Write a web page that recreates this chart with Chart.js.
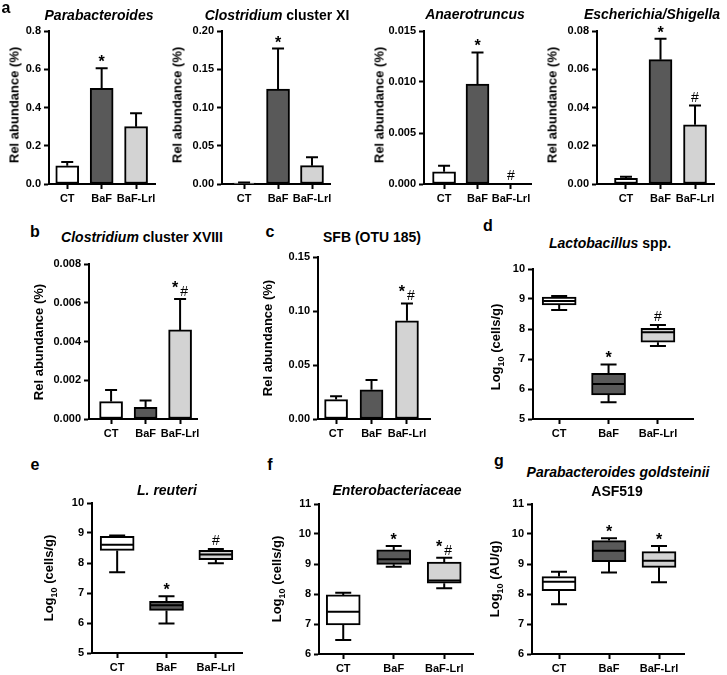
<!DOCTYPE html>
<html>
<head>
<meta charset="utf-8">
<script src="https://cdn.jsdelivr.net/npm/chart.js@4.4.0/dist/chart.umd.min.js"></script>
<style>
body{margin:0;background:#fff;width:727px;height:675px;position:relative;overflow:hidden;
  font-family:"Liberation Sans",Arial,sans-serif;font-weight:bold;color:#000}
canvas{position:absolute}
.t{position:absolute;transform:translate(-50%,-50%);white-space:nowrap;font-size:14px}
.l{position:absolute;transform:translate(-50%,-50%);font-size:16px}
.y{position:absolute;transform:translate(-50%,-50%) rotate(-90deg);white-space:nowrap;font-size:13px}
</style>
</head>
<body>
<script>
var groups = ['CT', 'BaF', 'BaF-Lrl'];
var fills = ['#ffffff', '#595959', '#d3d3d3'];

// a - relative abundance, mean and top of error bar
var paraMean = [0.095, 0.50, 0.30];
var paraErr = [0.115, 0.605, 0.37];
var paraMark = ['', '*', ''];
var clo11Mean = [0.0012, 0.124, 0.024];
var clo11Err = [0.002, 0.177, 0.035];
var clo11Mark = ['', '*', ''];
var anaMean = [0.0012, 0.0098, 0];
var anaErr = [0.0018, 0.0129, 0];
var anaMark = ['', '*', '#'];
var eschMean = [0.003, 0.065, 0.031];
var eschErr = [0.0038, 0.076, 0.041];
var eschMark = ['', '*', '#'];
// b, c
var clo18Mean = [0.0009, 0.0006, 0.0046];
var clo18Err = [0.0015, 0.00095, 0.0062];
var clo18Mark = ['', '', '*#'];
var sfbMean = [0.018, 0.027, 0.091];
var sfbErr = [0.021, 0.036, 0.107];
var sfbMark = ['', '', '*#'];

// d - g box plots (log10)
var lacMin = [8.63, 5.56, 7.43];
var lacQ1 = [8.80, 5.80, 7.56];
var lacMed = [8.93, 6.17, 7.89];
var lacQ3 = [9.06, 6.52, 8.02];
var lacMax = [9.10, 6.82, 8.13];
var lacMark = ['', '*', '#'];
var reuMin = [7.69, 5.98, 7.99];
var reuQ1 = [8.42, 6.42, 8.11];
var reuMed = [8.61, 6.59, 8.28];
var reuQ3 = [8.89, 6.72, 8.42];
var reuMax = [8.92, 6.89, 8.47];
var reuMark = ['', '*', '#'];
var entMin = [6.47, 8.91, 8.19];
var entQ1 = [6.97, 8.99, 8.36];
var entMed = [7.41, 9.16, 8.45];
var entQ3 = [7.97, 9.47, 9.06];
var entMax = [8.04, 9.60, 9.21];
var entMark = ['', '*', '*#'];
var golMin = [7.66, 8.72, 8.39];
var golQ1 = [8.11, 9.08, 8.89];
var golMed = [8.41, 9.44, 9.11];
var golQ3 = [8.58, 9.78, 9.41];
var golMax = [8.74, 9.86, 9.60];
var golMark = ['', '*', '*'];

var YW = 45, XH = 28, PT = 12, PR = 12;
var tickFont = {family: 'Liberation Sans', size: 11, weight: 'bold'};

function addText(cls, x, y, html) {
  var d = document.createElement('div');
  d.className = cls;
  d.style.left = x + 'px';
  d.style.top = y + 'px';
  d.innerHTML = html;
  document.body.appendChild(d);
}

function makeCanvas(g) {
  var cv = document.createElement('canvas');
  var w = YW + (g.end - g.ax) + PR, h = PT + (g.bot - g.top) + XH;
  cv.width = w; cv.height = h;
  cv.style.left = (g.ax - YW) + 'px';
  cv.style.top = (g.top - PT) + 'px';
  cv.style.width = w + 'px'; cv.style.height = h + 'px';
  document.body.appendChild(cv);
  return cv;
}

function drawMarks(c, x, yTop, m) {
  c.fillStyle = '#000';
  c.textAlign = 'center';
  c.textBaseline = 'alphabetic';
  if (m === '*#') {
    c.font = 'bold 16px "Liberation Sans"';
    c.fillText('*', x - 5, yTop - 6);
    c.font = '14px "Liberation Sans"';
    c.fillText('#', x + 4, yTop - 3);
  } else if (m === '*') {
    c.font = 'bold 16px "Liberation Sans"';
    c.fillText('*', x, yTop - 1);
  } else if (m === '#') {
    c.font = '14px "Liberation Sans"';
    c.fillText('#', x, yTop - 4);
  }
}

function scales(g, yMin, yMax, step, dec) {
  return {
    x: {
      type: 'linear', min: g.min, max: g.max, offset: false,
      afterFit: function (s) { s.height = XH; },
      afterBuildTicks: function (s) { s.ticks = groups.map(function (n, i) { return {value: i + 1}; }); },
      ticks: {callback: function (v) { return groups[Math.round(v) - 1]; }, color: '#000', font: tickFont,
        padding: 3, maxRotation: 0, autoSkip: false},
      grid: {offset: false, drawOnChartArea: false, tickLength: 5, tickColor: '#000', tickWidth: 2},
      border: {color: '#000', width: 2}
    },
    y: {
      min: yMin, max: yMax,
      afterFit: function (s) { s.width = YW; },
      ticks: {stepSize: step, callback: function (v) { return v.toFixed(dec); }, color: '#000', font: tickFont, padding: 3},
      grid: {drawOnChartArea: false, tickLength: 5, tickColor: '#000', tickWidth: 2},
      border: {color: '#000', width: 2}
    }
  };
}

function barPanel(g, yMax, step, dec, mean, err, mark) {
  var cv = makeCanvas(g);
  var errPlugin = {
    id: 'errbars',
    afterDatasetsDraw: function (chart) {
      var c = chart.ctx, xs = chart.scales.x, ys = chart.scales.y;
      c.save();
      c.strokeStyle = '#000'; c.lineWidth = 2;
      for (var i = 0; i < mean.length; i++) {
        var x = xs.getPixelForValue(i + 1);
        var y0 = ys.getPixelForValue(mean[i]), y1 = ys.getPixelForValue(err[i]);
        if (err[i] > mean[i]) {
          c.beginPath();
          c.moveTo(x, y0); c.lineTo(x, y1);
          c.moveTo(x - 6, y1); c.lineTo(x + 6, y1);
          c.stroke();
        }
        drawMarks(c, x, y1, mark[i]);
      }
      c.restore();
    }
  };
  new Chart(cv, {
    type: 'bar',
    data: {datasets: [{
      data: mean.map(function (v, i) { return {x: i + 1, y: v}; }),
      backgroundColor: fills, borderColor: '#000', borderWidth: 2, borderSkipped: false,
      barThickness: 23, clip: false
    }]},
    options: {
      responsive: false, animation: false,
      layout: {padding: {top: PT, right: PR, left: 0, bottom: 0}},
      plugins: {legend: {display: false}, tooltip: {enabled: false}},
      scales: scales(g, 0, yMax, step, dec)
    },
    plugins: [errPlugin]
  });
}

function boxPanel(g, yMin, yMax, mn, q1, med, q3, mx, mark) {
  var cv = makeCanvas(g);
  var boxPlugin = {
    id: 'boxes',
    afterDatasetsDraw: function (chart) {
      var c = chart.ctx, xs = chart.scales.x, ys = chart.scales.y;
      c.save();
      c.strokeStyle = '#000'; c.lineWidth = 2;
      for (var i = 0; i < med.length; i++) {
        var x = xs.getPixelForValue(i + 1);
        var yMn = ys.getPixelForValue(mn[i]), yQ1 = ys.getPixelForValue(q1[i]);
        var yMd = ys.getPixelForValue(med[i]), yQ3 = ys.getPixelForValue(q3[i]);
        var yMx = ys.getPixelForValue(mx[i]);
        c.beginPath();
        c.moveTo(x, yQ3); c.lineTo(x, yMx);
        c.moveTo(x - 8, yMx); c.lineTo(x + 8, yMx);
        c.moveTo(x, yQ1); c.lineTo(x, yMn);
        c.moveTo(x - 8, yMn); c.lineTo(x + 8, yMn);
        c.moveTo(x - 16, yMd); c.lineTo(x + 16, yMd);
        c.stroke();
        drawMarks(c, x, yMx, mark[i]);
      }
      c.restore();
    }
  };
  new Chart(cv, {
    type: 'bar',
    data: {datasets: [{
      data: q1.map(function (v, i) { return {x: i + 1, y: [v, q3[i]]}; }),
      backgroundColor: fills, borderColor: '#000', borderWidth: 2, borderSkipped: false,
      barThickness: 34
    }]},
    options: {
      responsive: false, animation: false,
      layout: {padding: {top: PT, right: PR, left: 0, bottom: 0}},
      plugins: {legend: {display: false}, tooltip: {enabled: false}},
      scales: scales(g, yMin, yMax, 1, 0)
    },
    plugins: [boxPlugin]
  });
}

barPanel({ax: 49, end: 155, top: 31, bot: 184, min: 0.47, max: 3.55}, 0.8, 0.2, 1, paraMean, paraErr, paraMark);
barPanel({ax: 222, end: 330, top: 31, bot: 184, min: 0.35, max: 3.53}, 0.2, 0.05, 2, clo11Mean, clo11Err, clo11Mark);
barPanel({ax: 424, end: 531, top: 31, bot: 184, min: 0.40, max: 3.60}, 0.015, 0.005, 3, anaMean, anaErr, anaMark);
barPanel({ax: 597, end: 714, top: 31, bot: 184, min: 0.16, max: 3.55}, 0.08, 0.02, 2, eschMean, eschErr, eschMark);
barPanel({ax: 89, end: 197, top: 264, bot: 419, min: 0.36, max: 3.49}, 0.008, 0.002, 3, clo18Mean, clo18Err, clo18Mark);
barPanel({ax: 318, end: 430, top: 257, bot: 419, min: 0.49, max: 3.65}, 0.15, 0.05, 2, sfbMean, sfbErr, sfbMark);
boxPanel({ax: 533, end: 693, top: 269, bot: 419, min: 0.47, max: 3.71}, 5, 10, lacMin, lacQ1, lacMed, lacQ3, lacMax, lacMark);
boxPanel({ax: 92, end: 242, top: 503, bot: 653, min: 0.49, max: 3.53}, 5, 10, reuMin, reuQ1, reuMed, reuQ3, reuMax, reuMark);
boxPanel({ax: 319, end: 473, top: 504, bot: 654, min: 0.52, max: 3.57}, 6, 11, entMin, entQ1, entMed, entQ3, entMax, entMark);
boxPanel({ax: 532, end: 684, top: 504, bot: 654, min: 0.46, max: 3.50}, 6, 11, golMin, golQ1, golMed, golQ3, golMax, golMark);

// titles
addText('t', 99, 15, '<i>Parabacteroides</i>');
addText('t', 277, 15, '<i>Clostridium</i> cluster XI');
addText('t', 475, 14, '<i>Anaerotruncus</i>');
addText('t', 652, 14, '<i>Escherichia/Shigella</i>');
addText('t', 142, 237, '<i>Clostridium</i> cluster XVIII');
addText('t', 372, 237, 'SFB (OTU 185)');
addText('t', 610, 243, '<i>Lactobacillus</i> spp.');
addText('t', 167, 490, '<i>L. reuteri</i>');
addText('t', 397, 490, '<i>Enterobacteriaceae</i>');
addText('t', 618, 472, '<i>Parabacteroides goldsteinii</i>');
addText('t', 617, 491, 'ASF519');
// panel letters
addText('l', 6, 8, 'a');
addText('l', 35, 232, 'b');
addText('l', 270, 232, 'c');
addText('l', 488, 226, 'd');
addText('l', 35, 465, 'e');
addText('l', 270, 465, 'f');
addText('l', 499, 461, 'g');
// axis titles
addText('y', 14, 105, 'Rel abundance (%)');
addText('y', 177, 105, 'Rel abundance (%)');
addText('y', 379, 105, 'Rel abundance (%)');
addText('y', 552, 105, 'Rel abundance (%)');
addText('y', 38, 342, 'Rel abundance (%)');
addText('y', 267, 338, 'Rel abundance (%)');
addText('y', 497, 347, 'Log<sub style="font-size:9px">10</sub> (cells/g)');
addText('y', 50, 578, 'Log<sub style="font-size:9px">10</sub> (cells/g)');
addText('y', 278, 579, 'Log<sub style="font-size:9px">10</sub> (cells/g)');
addText('y', 496, 579, 'Log<sub style="font-size:9px">10</sub> (AU/g)');
</script>
</body>
</html>
